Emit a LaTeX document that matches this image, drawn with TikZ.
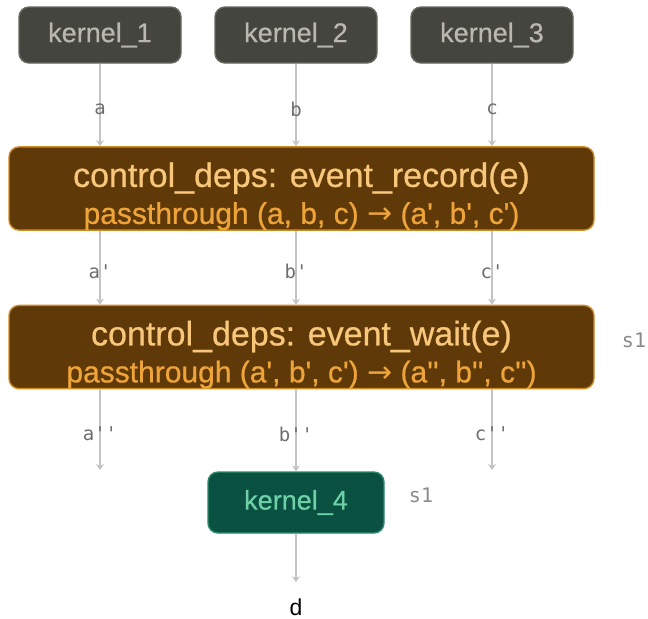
\documentclass[tikz,border=0pt]{standalone}
\usepackage{fontspec}
\setmainfont{Liberation Sans}
\setmonofont{DejaVu Sans Mono}
\newfontfamily\medfont{Liberation Sans}[FakeBold=0.6]
\newfontfamily\arrowfont{DejaVu Sans}
\usetikzlibrary{arrows.meta}

\definecolor{kerfill}{HTML}{45453F}
\definecolor{kerline}{HTML}{68685F}
\definecolor{kertext}{HTML}{B9B7AF}
\definecolor{depfill}{HTML}{5F3A08}
\definecolor{depline}{HTML}{CF8A22}
\definecolor{deptitle}{HTML}{F8C77B}
\definecolor{depsub}{HTML}{EFA43A}
\definecolor{k4fill}{HTML}{0B5142}
\definecolor{k4line}{HTML}{2E8A6B}
\definecolor{k4text}{HTML}{6DD0A7}
\definecolor{edgegray}{HTML}{C4C4C4}
\definecolor{lblgray}{HTML}{6E6E6E}
\definecolor{streamgray}{HTML}{8A8A8A}

\newcommand{\pq}{\textquotesingle}
\newcommand{\toarrow}{{\arrowfont →}}
% title line of a control_deps box, pushed down a little
\newcommand{\deptitle}[1]{{\fontsize{17}{18.5}\selectfont\color{deptitle}\rule{0pt}{20pt}#1}}

\begin{document}
\begin{tikzpicture}[x=0.5pt,y=-0.5pt]
\tikzset{kernel/.style={draw=kerline,line width=0.7pt,fill=kerfill,text=kertext,
    rounded corners=5pt,inner sep=0pt,minimum width=81pt,minimum height=28pt,
    font=\medfont\fontsize{13.5}{16}\selectfont}}
\tikzset{ctrl/.style={draw=depline,line width=0.7pt,fill=depfill,text=depsub,
    rounded corners=5pt,inner sep=0pt,minimum width=292.5pt,minimum height=41.5pt,
    align=center,font=\medfont\fontsize{15}{18.5}\selectfont}}
\tikzset{kfour/.style={kernel,draw=k4line,fill=k4fill,text=k4text,
    minimum width=88pt,minimum height=30.5pt}}
\tikzset{edge/.style={draw=edgegray,line width=0.75pt,-{Stealth[length=3pt,width=4pt]}}}
\tikzset{lbl/.style={text=lblgray,inner sep=0pt,pos=0.55,font=\ttfamily\fontsize{9.5}{11}\selectfont}}
\tikzset{stream/.style={text=streamgray,inner sep=0pt,font=\ttfamily\fontsize{10}{12}\selectfont}}
\useasboundingbox (0,0) rectangle (648,618);

% producers
\node[kernel] (k1) at (100,35) {kernel\_1};
\node[kernel] (k2) at (296,35) {kernel\_2};
\node[kernel] (k3) at (492,35) {kernel\_3};

% control deps
\node[ctrl] (rec) at (301.5,188.5)
  {\deptitle{control\_deps: event\_record(e)}\\
   passthrough (a, b, c) \toarrow{} (a\pq, b\pq, c\pq)};
\node[ctrl] (wait) at (301.5,347)
  {\deptitle{control\_deps: event\_wait(e)}\\
   passthrough (a\pq, b\pq, c\pq) \toarrow{} (a\pq\pq, b\pq\pq, c\pq\pq)};
\node[stream] (s1a) at (634,340) {s1};

% consumer
\node[kfour] (k4) at (296,502.5) {kernel\_4};
\node[stream] (s1b) at (421,495) {s1};
\node[inner sep=0pt,font=\fontsize{11.5}{13}\selectfont] (d) at (296,607) {d};

\coordinate (endA) at (100,470);
\coordinate (endC) at (492,470);

\draw[edge] (k1) -- node[lbl]{a} (k1 |- rec.north);
\draw[edge] (k2) -- node[lbl]{b} (k2 |- rec.north);
\draw[edge] (k3) -- node[lbl]{c} (k3 |- rec.north);

\draw[edge] (k1 |- rec.south) -- node[lbl]{a'} (k1 |- wait.north);
\draw[edge] (k2 |- rec.south) -- node[lbl]{b'} (k2 |- wait.north);
\draw[edge] (k3 |- rec.south) -- node[lbl]{c'} (k3 |- wait.north);

\draw[edge] (k1 |- wait.south) -- node[lbl]{a''} (endA);
\draw[edge] (k2 |- wait.south) -- node[lbl]{b''} (k4);
\draw[edge] (k3 |- wait.south) -- node[lbl]{c''} (endC);

\draw[edge,shorten >=8pt] (k4) -- (d);
\end{tikzpicture}
\end{document}
